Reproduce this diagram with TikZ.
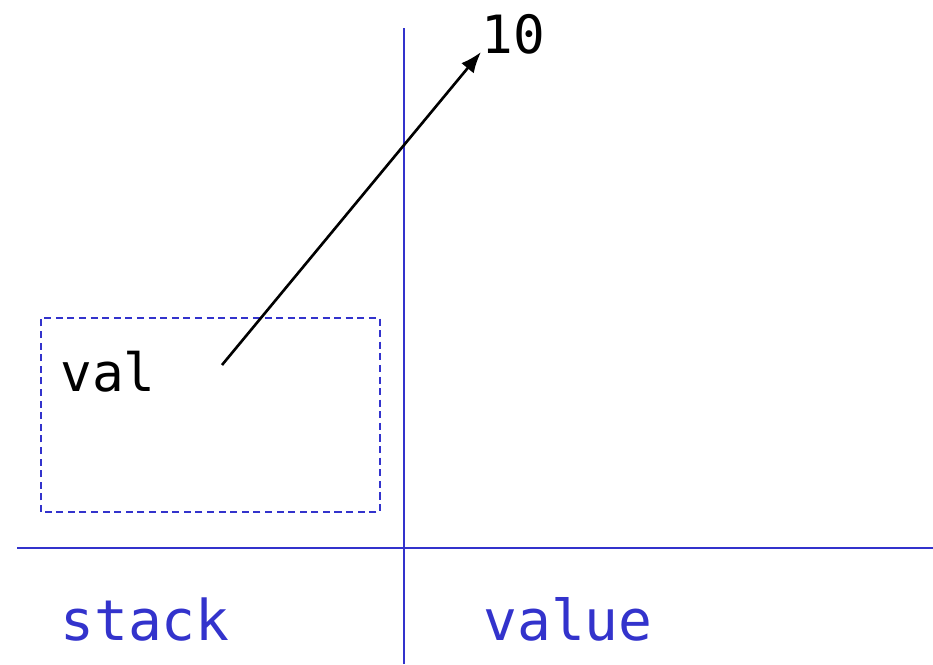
\documentclass[tikz,border=0pt]{standalone}
\usepackage{fontspec}
\setmonofont{DejaVu Sans Mono}
\usetikzlibrary{arrows.meta,positioning}
\definecolor{memblue}{HTML}{3333CC}
\tikzset{
  divider/.style={draw=memblue, line width=1.2pt},
  slot/.style={draw=memblue, dash pattern=on 4pt off 2.6pt, line width=0.9pt},
  code/.style={inner sep=0pt, font=\ttfamily\fontsize{30}{34}\selectfont},
  region/.style={code, text=memblue, font=\ttfamily\fontsize{32}{36}\selectfont},
  ptr/.style={-{Latex[length=4.2mm,width=3.2mm]}, line width=1.5pt}
}
\begin{document}
\begin{tikzpicture}
  \useasboundingbox (0,0) rectangle (18.66,13.28);
  % axes between the two regions
  \draw[divider] (8.08,0) -- (8.08,12.72);
  \draw[divider] (0.34,2.32) -- (18.66,2.32);
  % stack slot
  \draw[slot] (0.82,3.04) rectangle (7.6,6.92);
  \node[code, anchor=base west] (val) at (1.2,5.44) {val};
  \coordinate (valptr) at (4.44,5.98);
  % the value
  \node[code, anchor=base west] (num) at (9.62,12.2) {10};
  \draw[ptr] (valptr) -- ([yshift=0.04cm]num.base west);
  % region labels
  \node[region, anchor=base west] (stack) at (1.2,0.48) {stack};
  \node[region, anchor=base west] (value) at (9.66,0.48) {value};
\end{tikzpicture}
\end{document}
